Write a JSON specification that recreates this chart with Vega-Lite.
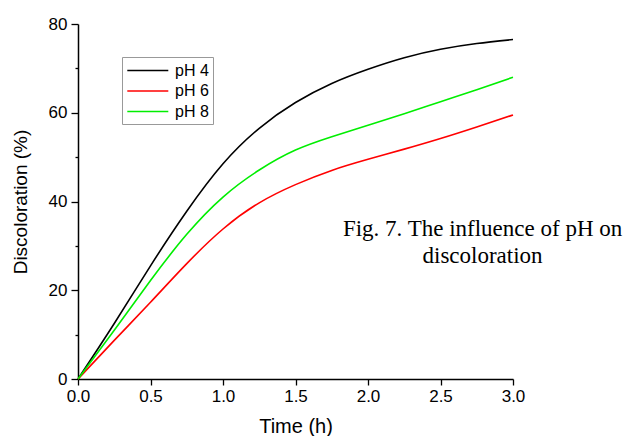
{
  "$schema": "https://vega.github.io/schema/vega-lite/v6.json",
  "width": 435,
  "height": 355,
  "autosize": {"type": "none"},
  "padding": {"left": 78, "top": 24, "right": 114, "bottom": 57},
  "background": "white",
  "config": {
    "view": {"stroke": null},
    "font": "Liberation Sans"
  },
  "datasets": {
    "curves": [
      {"t": 0, "v": 0, "s": "pH 4"}, {"t": 0.25, "v": 12.5, "s": "pH 4"}, {"t": 0.5, "v": 25.5, "s": "pH 4"}, {"t": 0.75, "v": 37.8, "s": "pH 4"}, {"t": 1.0, "v": 48.5, "s": "pH 4"}, {"t": 1.25, "v": 56.5, "s": "pH 4"}, {"t": 1.5, "v": 62.3, "s": "pH 4"}, {"t": 1.75, "v": 66.6, "s": "pH 4"}, {"t": 2.0, "v": 69.8, "s": "pH 4"}, {"t": 2.25, "v": 72.4, "s": "pH 4"}, {"t": 2.5, "v": 74.3, "s": "pH 4"}, {"t": 2.75, "v": 75.6, "s": "pH 4"}, {"t": 3.0, "v": 76.5, "s": "pH 4"},
      {"t": 0, "v": 0, "s": "pH 6"}, {"t": 0.25, "v": 8.7, "s": "pH 6"}, {"t": 0.5, "v": 17.3, "s": "pH 6"}, {"t": 0.75, "v": 26.0, "s": "pH 6"}, {"t": 1.0, "v": 33.8, "s": "pH 6"}, {"t": 1.25, "v": 39.7, "s": "pH 6"}, {"t": 1.5, "v": 43.8, "s": "pH 6"}, {"t": 1.75, "v": 47.0, "s": "pH 6"}, {"t": 2.0, "v": 49.5, "s": "pH 6"}, {"t": 2.25, "v": 51.8, "s": "pH 6"}, {"t": 2.5, "v": 54.2, "s": "pH 6"}, {"t": 2.75, "v": 56.8, "s": "pH 6"}, {"t": 3.0, "v": 59.5, "s": "pH 6"},
      {"t": 0, "v": 0, "s": "pH 8"}, {"t": 0.25, "v": 11.0, "s": "pH 8"}, {"t": 0.5, "v": 22.2, "s": "pH 8"}, {"t": 0.75, "v": 32.6, "s": "pH 8"}, {"t": 1.0, "v": 41.0, "s": "pH 8"}, {"t": 1.25, "v": 47.1, "s": "pH 8"}, {"t": 1.5, "v": 51.6, "s": "pH 8"}, {"t": 1.75, "v": 54.6, "s": "pH 8"}, {"t": 2.0, "v": 57.2, "s": "pH 8"}, {"t": 2.25, "v": 59.8, "s": "pH 8"}, {"t": 2.5, "v": 62.5, "s": "pH 8"}, {"t": 2.75, "v": 65.2, "s": "pH 8"}, {"t": 3.0, "v": 68.0, "s": "pH 8"}
    ],
    "caption": [
      {"t": 2.79, "v": 32.3, "label": "Fig. 7. The influence of pH on\ndiscoloration"}
    ]
  },
  "layer": [
    {
      "data": {"name": "curves"},
      "mark": {"type": "line", "interpolate": "natural", "strokeWidth": 1.6},
      "encoding": {
        "x": {
          "field": "t", "type": "quantitative",
          "scale": {"domain": [0, 3], "nice": false, "zero": false},
          "axis": {
            "title": "Time (h)",
            "values": [0, 0.25, 0.5, 0.75, 1, 1.25, 1.5, 1.75, 2, 2.25, 2.5, 2.75, 3],
            "labelExpr": "datum.value * 2 % 1 === 0 ? format(datum.value, '.1f') : ''",
            "labelFlush": false,
            "labelOverlap": false,
            "grid": false,
            "domainColor": "black", "domainWidth": 1.5,
            "tickColor": "black", "tickWidth": 1.3,
            "tickSize": {"condition": {"test": "datum.value * 2 % 1 === 0", "value": 6}, "value": 4},
            "labelFontSize": 17, "labelColor": "black", "labelPadding": 3,
            "titleFontSize": 20, "titleFontWeight": "normal", "titleColor": "black", "titlePadding": 12
          }
        },
        "y": {
          "field": "v", "type": "quantitative",
          "scale": {"domain": [0, 80], "nice": false},
          "axis": {
            "title": "Discoloration (%)",
            "values": [0, 10, 20, 30, 40, 50, 60, 70, 80],
            "labelExpr": "datum.value % 20 === 0 ? format(datum.value, 'd') : ''",
            "labelFlush": false,
            "labelOverlap": false,
            "grid": false,
            "domainColor": "black", "domainWidth": 1.5,
            "tickColor": "black", "tickWidth": 1.3,
            "tickSize": {"condition": {"test": "datum.value % 20 === 0", "value": 7}, "value": 3},
            "labelFontSize": 17, "labelColor": "black", "labelPadding": 4,
            "titleFontSize": 19, "titleFontWeight": "normal", "titleColor": "black", "titlePadding": 18
          }
        },
        "color": {
          "field": "s", "type": "nominal",
          "scale": {"domain": ["pH 4", "pH 6", "pH 8"], "range": ["#000000", "#ff0000", "#00ee00"]},
          "legend": {
            "title": null,
            "orient": "none",
            "legendX": 44,
            "legendY": 33,
            "symbolType": "M-1,0L4,0",
            "symbolSize": 269,
            "symbolStrokeWidth": 1.6,
            "labelFontSize": 16,
            "labelColor": "black",
            "rowPadding": 2.5,
            "strokeColor": "#999999",
            "padding": 4,
            "labelOffset": 30
          }
        }
      }
    },
    {
      "data": {"name": "caption"},
      "mark": {"type": "text", "font": "Liberation Serif", "fontSize": 23, "lineBreak": "\n", "lineHeight": 27.5, "align": "center", "baseline": "alphabetic", "color": "black", "clip": false},
      "encoding": {
        "x": {"field": "t", "type": "quantitative"},
        "y": {"field": "v", "type": "quantitative"},
        "text": {"field": "label"}
      }
    }
  ]
}
